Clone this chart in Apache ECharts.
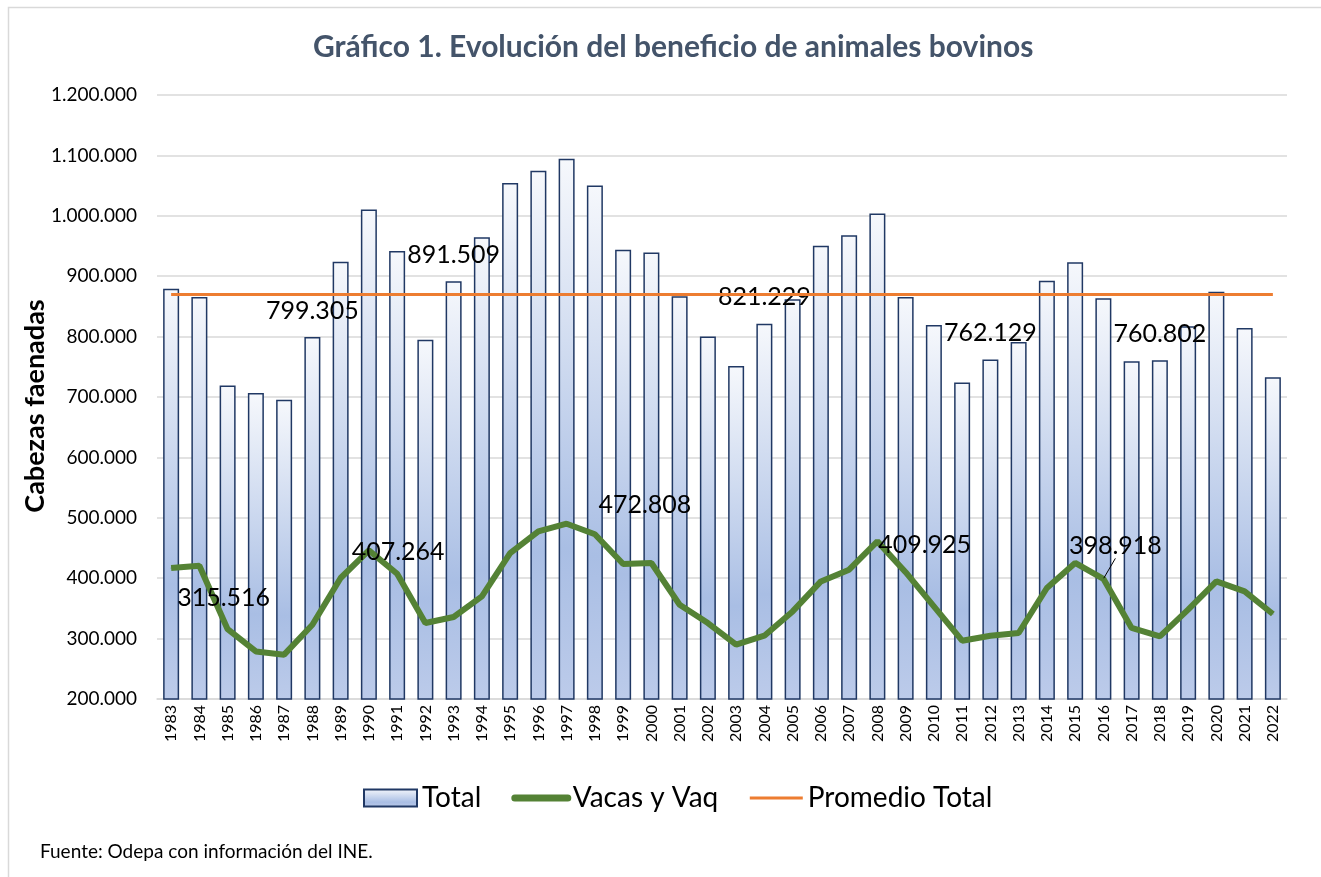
<!DOCTYPE html>
<html>
<head>
<meta charset="utf-8">
<title>Gráfico 1</title>
<script src="https://cdn.jsdelivr.net/npm/echarts@6/dist/echarts.min.js"></script>
<style>
  html, body { margin: 0; padding: 0; background: #fff; }
  #chart { width: 1321px; height: 877px; }
</style>
</head>
<body>
<div id="chart"></div>
<script>
// datos
const years = ['1983', '1984', '1985', '1986', '1987', '1988', '1989', '1990', '1991', '1992',
  '1993', '1994', '1995', '1996', '1997', '1998', '1999', '2000', '2001', '2002',
  '2003', '2004', '2005', '2006', '2007', '2008', '2009', '2010', '2011', '2012',
  '2013', '2014', '2015', '2016', '2017', '2018', '2019', '2020', '2021', '2022']

const total = [879300, 865600, 719200, 706600, 695500, 799305, 924000, 1010600, 941700, 794900,
  891509, 964300, 1054300, 1074700, 1094500, 1050300, 943900, 939400, 866600, 800200,
  751300, 821229, 862000, 950500, 967600, 1004000, 865600, 819200, 724200, 762129,
  791000, 892600, 922900, 863300, 759000, 760802, 817000, 874300, 814200, 732500]

const vacas = [416900, 420500, 315516, 278800, 273400, 323000, 400300, 446000, 407264, 325800,
  335800, 369900, 441700, 477500, 490200, 472808, 423500, 425200, 356100, 325800,
  289900, 304800, 345000, 394700, 414100, 461000, 409925, 353300, 296500, 304800,
  309300, 383800, 425200, 398918, 317600, 303700, 347900, 394700, 378200, 340700]

const promedioTotal = 869900

const yTicks = { min: 200000, max: 1200000, step: 100000 }

// etiquetas visibles (indices) y su desplazamiento
const totalLabelIdx = [5, 10, 21, 29, 35]
const vacasLabelShift = { 2: [-4, -13], 8: [1, -4], 15: [50, -11], 26: [19, -9], 33: [12, -15] }
const leaderIdx = 33

const fmt = v => String(Math.round(v)).replace(/\B(?=(\d{3})+(?!\d))/g, '.')

const FONT = 'Lato'

const barFill = new echarts.graphic.LinearGradient(0, 0, 0, 1, [
  { offset: 0, color: '#F6F8FC' },
  { offset: 0.72, color: '#A9BEE4' },
  { offset: 1, color: '#BCCBEA' }
])

const totalData = total.map((v, i) => totalLabelIdx.includes(i) ? { value: v, label: { show: true } } : v)

const vacasData = vacas.map((v, i) => {
  if (i === leaderIdx) {
    return { value: v, label: { show: true }, labelLine: { show: true, lineStyle: { color: '#000', width: 1 } } }
  }
  if (vacasLabelShift[i]) {
    return { value: v, label: { show: true } }
  }
  return v
})

const promedioData = years.map(() => promedioTotal)

const chart = echarts.init(document.getElementById('chart'), null, { renderer: 'canvas' })

const noSymbol = { color: 'rgba(0,0,0,0)', borderWidth: 0 }

chart.setOption({
  animation: false,
  backgroundColor: '#fff',
  textStyle: { fontFamily: FONT },
  graphic: [
    {
      type: 'rect',
      z: -10,
      silent: true,
      shape: { x: 8.5, y: 7.5, width: 1400, height: 1000 },
      style: { fill: 'none', stroke: '#D9D9D9', lineWidth: 1.5 }
    }
  ],
  title: [
    {
      text: 'Gráfico 1. Evolución del beneficio de animales bovinos',
      left: 308,
      top: 27,
      textStyle: { fontFamily: FONT, fontSize: 30, fontWeight: 'bold', color: '#44546A' }
    },
    {
      text: 'Fuente: Odepa con información del INE.',
      left: 35,
      top: 837,
      textStyle: { fontFamily: FONT, fontSize: 19, fontWeight: 'normal', color: '#000' }
    }
  ],
  legend: {
    data: [
      { name: 'Total', icon: 'rect' },
      { name: 'Vacas y Vaq', itemStyle: noSymbol, lineStyle: { width: 7, cap: 'round' } },
      { name: 'Promedio Total', itemStyle: noSymbol, lineStyle: { width: 3 } }
    ],
    left: 358,
    top: 779,
    itemWidth: 53,
    itemHeight: 17,
    itemGap: 30,
    textStyle: { fontFamily: FONT, fontSize: 28, color: '#000' }
  },
  grid: {
    left: 157,
    right: 34,
    top: 95,
    bottom: 178,
    containLabel: false
  },
  xAxis: {
    type: 'category',
    data: years,
    boundaryGap: true,
    axisLine: { show: true, lineStyle: { color: '#D9D9D9', width: 1.5 } },
    axisTick: { show: false },
    axisLabel: {
      rotate: 90,
      margin: 6,
      interval: 0,
      fontFamily: FONT,
      fontSize: 16,
      color: '#000'
    }
  },
  yAxis: {
    type: 'value',
    min: yTicks.min,
    max: yTicks.max,
    interval: yTicks.step,
    name: 'Cabezas faenadas',
    nameLocation: 'middle',
    nameRotate: 90,
    nameGap: 108,
    nameMoveOverlap: false,
    nameTextStyle: {
      fontFamily: FONT,
      fontSize: 27,
      fontWeight: 'bold',
      color: '#000',
      padding: [0, 18, 0, 0]
    },
    axisLine: { show: false },
    axisTick: { show: false },
    axisLabel: {
      margin: 20,
      fontFamily: FONT,
      fontSize: 19,
      color: '#000',
      formatter: v => fmt(v)
    },
    splitLine: { lineStyle: { color: '#D9D9D9', width: 1.5 } }
  },
  series: [
    {
      name: 'Total',
      type: 'bar',
      barWidth: 16,
      data: totalData,
      itemStyle: { color: barFill, borderColor: '#203864', borderWidth: 1.5 },
      label: {
        show: false,
        position: 'top',
        distance: 14,
        fontFamily: FONT,
        fontSize: 25,
        color: '#000',
        formatter: p => fmt(p.value)
      },
      z: 2
    },
    {
      name: 'Vacas y Vaq',
      type: 'line',
      data: vacasData,
      symbol: 'circle',
      symbolSize: 1,
      showSymbol: true,
      itemStyle: { color: '#548235' },
      lineStyle: { color: '#548235', width: 6 },
      label: {
        show: false,
        position: 'top',
        fontFamily: FONT,
        fontSize: 25,
        color: '#000',
        formatter: p => fmt(p.value)
      },
      labelLayout: p => {
        const s = vacasLabelShift[p.dataIndex]
        return s ? { dx: s[0], dy: s[1] } : {}
      },
      z: 4
    },
    {
      name: 'Promedio Total',
      type: 'line',
      data: promedioData,
      symbol: 'none',
      itemStyle: { color: '#ED7D31' },
      lineStyle: { color: '#ED7D31', width: 3 },
      z: 3
    }
  ]
})
</script>
</body>
</html>
